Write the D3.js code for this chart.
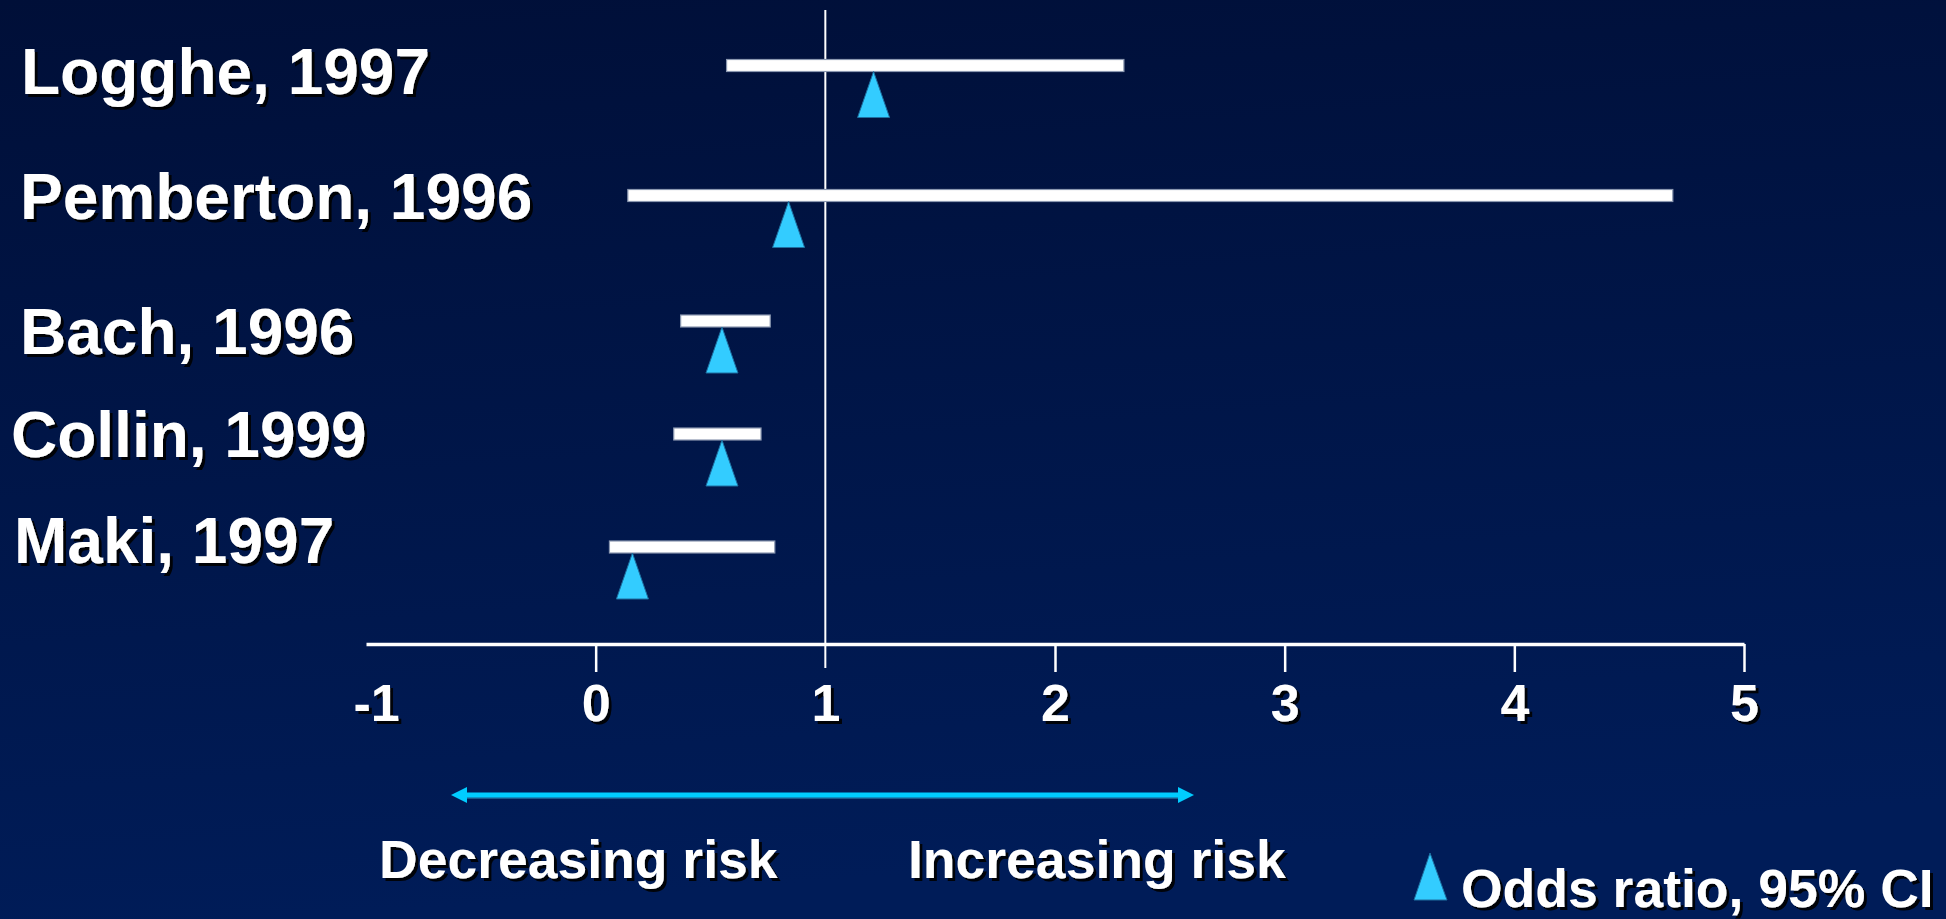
<!DOCTYPE html>
<html>
<head>
<meta charset="utf-8">
<script src="https://cdn.jsdelivr.net/npm/d3@7"></script>
<style>
  html, body { margin: 0; padding: 0; background: #00123f; overflow: hidden; }
  svg { display: block; }
  text { font-family: "Liberation Sans", Arial, sans-serif; font-weight: bold; fill: #ffffff; }
</style>
</head>
<body>
<script>
// Studies and their odds ratios with 95% confidence intervals
const studies  = ["Logghe, 1997", "Pemberton, 1996", "Bach, 1996", "Collin, 1999", "Maki, 1997"];
const oddsRatio = [1.21, 0.84, 0.55, 0.55, 0.16];
const ciLow     = [0.57, 0.14, 0.37, 0.34, 0.06];
const ciHigh    = [2.30, 4.69, 0.76, 0.72, 0.78];

// Axis ticks
const tickValues = [-1, 0, 1, 2, 3, 4, 5];
const tickLabels = ["-1", "0", "1", "2", "3", "4", "5"];

// Annotations
const directionLabels = ["Decreasing risk", "Increasing risk"];
const legendLabel = "Odds ratio, 95% CI";

const W = 1946, H = 919;

const svg = d3.select("body").append("svg")
  .attr("width", W).attr("height", H);

const defs = svg.append("defs");
const grad = defs.append("linearGradient")
  .attr("id", "bg").attr("x1", 0).attr("y1", 0).attr("x2", 0.15).attr("y2", 1);
grad.append("stop").attr("offset", "0%").attr("stop-color", "#000f38");
grad.append("stop").attr("offset", "100%").attr("stop-color", "#001c58");

const shadow = defs.append("filter").attr("id", "shadow")
  .attr("x", "-5%").attr("y", "-10%").attr("width", "115%").attr("height", "130%");
shadow.append("feDropShadow")
  .attr("dx", 3).attr("dy", 3).attr("stdDeviation", 0.6)
  .attr("flood-color", "#000000").attr("flood-opacity", 0.9);

svg.append("rect").attr("width", W).attr("height", H).attr("fill", "url(#bg)");

// Scales
const x = d3.scaleLinear().domain([-1, 5]).range([366, 1744]);
const y = d3.scaleOrdinal().domain(studies).range([65.5, 195.5, 321, 434, 547]);
const labelY = d3.scaleOrdinal().domain(studies).range([94, 219, 354, 457, 563]);
const labelX = d3.scaleOrdinal().domain(studies).range([21, 20, 20, 11, 14]);

const axisY = 644;
const barH = 12;
const triH = 46, triW = 32;

const rows = studies.map((s, i) => ({ study: s, or: oddsRatio[i], lo: ciLow[i], hi: ciHigh[i] }));

// Reference line at odds ratio 1
svg.append("line")
  .attr("x1", x(1)).attr("x2", x(1))
  .attr("y1", 10).attr("y2", axisY + 24)
  .attr("stroke", "#ffffff").attr("stroke-width", 2);

// X axis
const axis = d3.axisBottom(x)
  .tickValues(tickValues)
  .tickFormat((d, i) => tickLabels[i])
  .tickSize(28)
  .tickSizeOuter(0)
  .tickPadding(12);

const gx = svg.append("g")
  .attr("transform", `translate(0,${axisY})`)
  .call(axis);

gx.select(".domain")
  .attr("stroke", "#ffffff").attr("stroke-width", 3.5);
gx.selectAll(".tick line")
  .attr("stroke", "#ffffff").attr("stroke-width", 2.5)
  .attr("display", d => (d === -1 || d === 1) ? "none" : null);
gx.selectAll(".tick text")
  .attr("fill", "#ffffff")
  .attr("font-size", 52)
  .attr("font-family", "Liberation Sans, Arial, sans-serif")
  .attr("font-weight", "bold")
  .attr("filter", "url(#shadow)")
  .attr("dx", d => d === -1 ? 10 : 0);

// Confidence interval bars
svg.append("g").selectAll("rect")
  .data(rows).join("rect")
  .attr("x", d => x(d.lo))
  .attr("y", d => y(d.study) - barH / 2)
  .attr("width", d => x(d.hi) - x(d.lo))
  .attr("height", barH)
  .attr("fill", "#ffffff")
  .attr("stroke", "#8a97b0").attr("stroke-width", 1.2);

// Odds ratio markers
const triPath = (cx, top) =>
  `M${cx},${top} L${cx + triW / 2},${top + triH} L${cx - triW / 2},${top + triH} Z`;

svg.append("g").selectAll("path")
  .data(rows).join("path")
  .attr("d", d => triPath(x(d.or), y(d.study) + barH / 2))
  .attr("fill", "#33ccff")
  .attr("stroke", "#1e6fa0").attr("stroke-width", 1);

// Study labels
svg.append("g").selectAll("text")
  .data(rows).join("text")
  .attr("x", d => labelX(d.study))
  .attr("y", d => labelY(d.study))
  .attr("font-size", 64)
  .attr("filter", "url(#shadow)")
  .text(d => d.study);

// Direction arrow
const arrowY = 795, arrowL = 451, arrowR = 1194, head = 16, headHalf = 8;
svg.append("line")
  .attr("x1", arrowL + head - 2).attr("x2", arrowR - head + 2)
  .attr("y1", arrowY + 3).attr("y2", arrowY + 3)
  .attr("stroke", "#1a5a8c").attr("stroke-width", 2);
svg.append("line")
  .attr("x1", arrowL + head - 2).attr("x2", arrowR - head + 2)
  .attr("y1", arrowY).attr("y2", arrowY)
  .attr("stroke", "#00ccff").attr("stroke-width", 5);
svg.append("path")
  .attr("d", `M${arrowL},${arrowY} L${arrowL + head},${arrowY - headHalf} L${arrowL + head},${arrowY + headHalf} Z`)
  .attr("fill", "#00ccff");
svg.append("path")
  .attr("d", `M${arrowR},${arrowY} L${arrowR - head},${arrowY - headHalf} L${arrowR - head},${arrowY + headHalf} Z`)
  .attr("fill", "#00ccff");

svg.append("text")
  .attr("x", 379).attr("y", 878)
  .attr("font-size", 53.5)
  .attr("filter", "url(#shadow)")
  .text(directionLabels[0]);
svg.append("text")
  .attr("x", 908).attr("y", 878)
  .attr("font-size", 53.5)
  .attr("filter", "url(#shadow)")
  .text(directionLabels[1]);

// Legend
svg.append("path")
  .attr("d", "M1430,853 L1447,900 L1414,900 Z")
  .attr("fill", "#33ccff")
  .attr("stroke", "#1e6fa0").attr("stroke-width", 1);
svg.append("text")
  .attr("x", 1461).attr("y", 907)
  .attr("font-size", 53.5)
  .attr("filter", "url(#shadow)")
  .text(legendLabel);
</script>
</body>
</html>
